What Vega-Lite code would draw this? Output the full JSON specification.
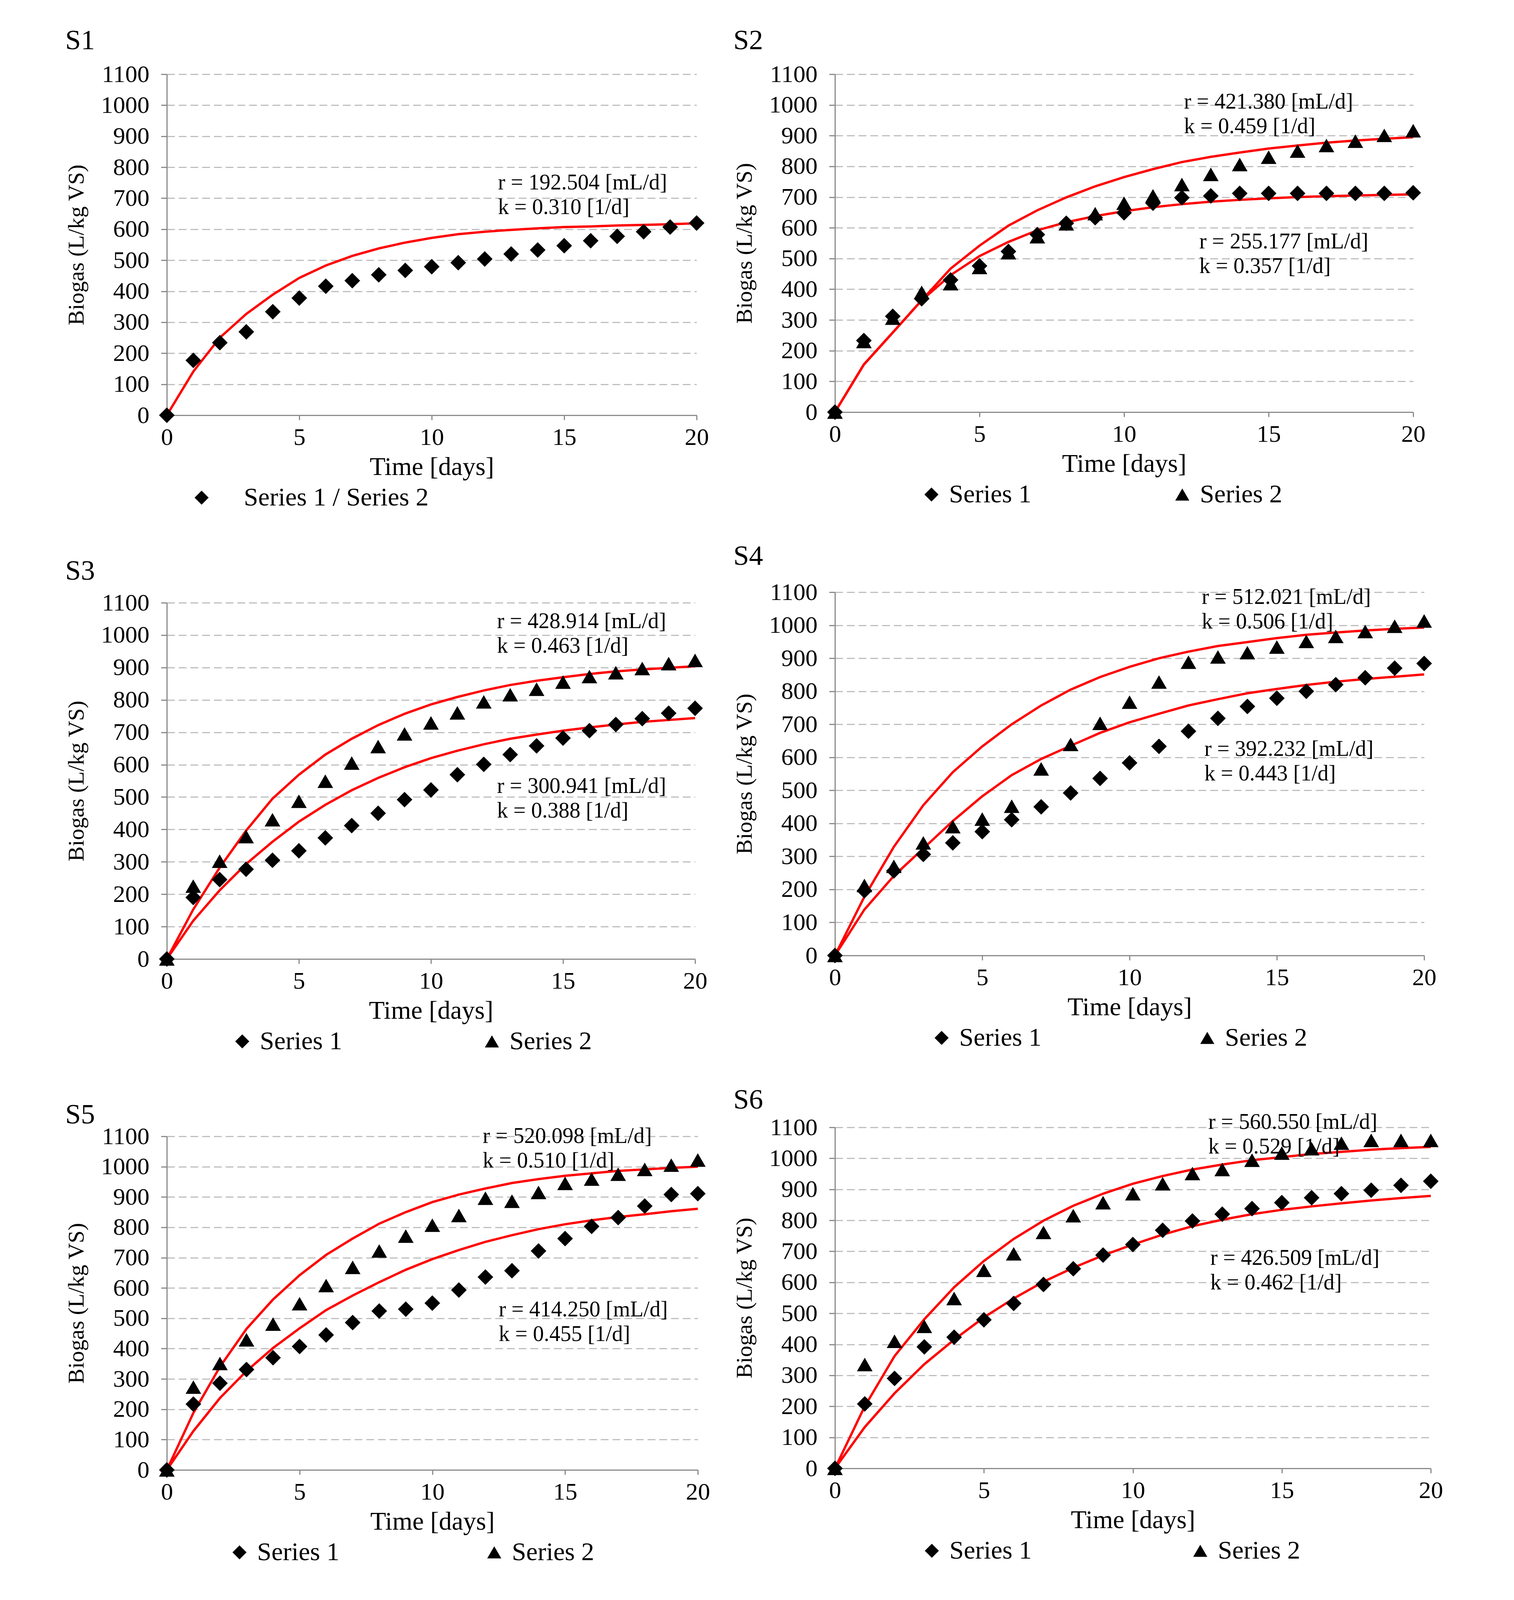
{
"$schema":"https://vega.github.io/schema/vega-lite/v6.json",
"background":"white",
"padding":{"left":167,"top":68,"right":20,"bottom":20},
"datasets":{
"pts":[
{"panel":"S1","series":"Series 1 / Series 2","day":0,"biogas":0},{"panel":"S1","series":"Series 1 / Series 2","day":1,"biogas":177},{"panel":"S1","series":"Series 1 / Series 2","day":2,"biogas":234},{"panel":"S1","series":"Series 1 / Series 2","day":3,"biogas":269},{"panel":"S1","series":"Series 1 / Series 2","day":4,"biogas":334},{"panel":"S1","series":"Series 1 / Series 2","day":5,"biogas":378},{"panel":"S1","series":"Series 1 / Series 2","day":6,"biogas":416},{"panel":"S1","series":"Series 1 / Series 2","day":7,"biogas":434},{"panel":"S1","series":"Series 1 / Series 2","day":8,"biogas":453},{"panel":"S1","series":"Series 1 / Series 2","day":9,"biogas":467},{"panel":"S1","series":"Series 1 / Series 2","day":10,"biogas":479},{"panel":"S1","series":"Series 1 / Series 2","day":11,"biogas":492},{"panel":"S1","series":"Series 1 / Series 2","day":12,"biogas":504},{"panel":"S1","series":"Series 1 / Series 2","day":13,"biogas":520},{"panel":"S1","series":"Series 1 / Series 2","day":14,"biogas":533},{"panel":"S1","series":"Series 1 / Series 2","day":15,"biogas":547},{"panel":"S1","series":"Series 1 / Series 2","day":16,"biogas":563},{"panel":"S1","series":"Series 1 / Series 2","day":17,"biogas":577},{"panel":"S1","series":"Series 1 / Series 2","day":18,"biogas":592},{"panel":"S1","series":"Series 1 / Series 2","day":19,"biogas":607},{"panel":"S1","series":"Series 1 / Series 2","day":20,"biogas":620},
{"panel":"S2","series":"Series 1","day":0,"biogas":0},{"panel":"S2","series":"Series 1","day":1,"biogas":233},{"panel":"S2","series":"Series 1","day":2,"biogas":312},{"panel":"S2","series":"Series 1","day":3,"biogas":369},{"panel":"S2","series":"Series 1","day":4,"biogas":430},{"panel":"S2","series":"Series 1","day":5,"biogas":476},{"panel":"S2","series":"Series 1","day":6,"biogas":523},{"panel":"S2","series":"Series 1","day":7,"biogas":578},{"panel":"S2","series":"Series 1","day":8,"biogas":615},{"panel":"S2","series":"Series 1","day":9,"biogas":633},{"panel":"S2","series":"Series 1","day":10,"biogas":649},{"panel":"S2","series":"Series 1","day":11,"biogas":680},{"panel":"S2","series":"Series 1","day":12,"biogas":698},{"panel":"S2","series":"Series 1","day":13,"biogas":704},{"panel":"S2","series":"Series 1","day":14,"biogas":712},{"panel":"S2","series":"Series 1","day":15,"biogas":712},{"panel":"S2","series":"Series 1","day":16,"biogas":712},{"panel":"S2","series":"Series 1","day":17,"biogas":712},{"panel":"S2","series":"Series 1","day":18,"biogas":712},{"panel":"S2","series":"Series 1","day":19,"biogas":712},{"panel":"S2","series":"Series 1","day":20,"biogas":714},
{"panel":"S2","series":"Series 2","day":0,"biogas":0},{"panel":"S2","series":"Series 2","day":1,"biogas":230},{"panel":"S2","series":"Series 2","day":2,"biogas":306},{"panel":"S2","series":"Series 2","day":3,"biogas":390},{"panel":"S2","series":"Series 2","day":4,"biogas":418},{"panel":"S2","series":"Series 2","day":5,"biogas":471},{"panel":"S2","series":"Series 2","day":6,"biogas":519},{"panel":"S2","series":"Series 2","day":7,"biogas":571},{"panel":"S2","series":"Series 2","day":8,"biogas":613},{"panel":"S2","series":"Series 2","day":9,"biogas":646},{"panel":"S2","series":"Series 2","day":10,"biogas":680},{"panel":"S2","series":"Series 2","day":11,"biogas":704},{"panel":"S2","series":"Series 2","day":12,"biogas":741},{"panel":"S2","series":"Series 2","day":13,"biogas":774},{"panel":"S2","series":"Series 2","day":14,"biogas":806},{"panel":"S2","series":"Series 2","day":15,"biogas":830},{"panel":"S2","series":"Series 2","day":16,"biogas":850},{"panel":"S2","series":"Series 2","day":17,"biogas":868},{"panel":"S2","series":"Series 2","day":18,"biogas":882},{"panel":"S2","series":"Series 2","day":19,"biogas":901},{"panel":"S2","series":"Series 2","day":20,"biogas":916},
{"panel":"S3","series":"Series 1","day":0,"biogas":0},{"panel":"S3","series":"Series 1","day":1,"biogas":190},{"panel":"S3","series":"Series 1","day":2,"biogas":245},{"panel":"S3","series":"Series 1","day":3,"biogas":277},{"panel":"S3","series":"Series 1","day":4,"biogas":305},{"panel":"S3","series":"Series 1","day":5,"biogas":334},{"panel":"S3","series":"Series 1","day":6,"biogas":374},{"panel":"S3","series":"Series 1","day":7,"biogas":412},{"panel":"S3","series":"Series 1","day":8,"biogas":450},{"panel":"S3","series":"Series 1","day":9,"biogas":492},{"panel":"S3","series":"Series 1","day":10,"biogas":522},{"panel":"S3","series":"Series 1","day":11,"biogas":569},{"panel":"S3","series":"Series 1","day":12,"biogas":601},{"panel":"S3","series":"Series 1","day":13,"biogas":631},{"panel":"S3","series":"Series 1","day":14,"biogas":658},{"panel":"S3","series":"Series 1","day":15,"biogas":682},{"panel":"S3","series":"Series 1","day":16,"biogas":705},{"panel":"S3","series":"Series 1","day":17,"biogas":724},{"panel":"S3","series":"Series 1","day":18,"biogas":742},{"panel":"S3","series":"Series 1","day":19,"biogas":759},{"panel":"S3","series":"Series 1","day":20,"biogas":774},
{"panel":"S3","series":"Series 2","day":0,"biogas":0},{"panel":"S3","series":"Series 2","day":1,"biogas":225},{"panel":"S3","series":"Series 2","day":2,"biogas":302},{"panel":"S3","series":"Series 2","day":3,"biogas":378},{"panel":"S3","series":"Series 2","day":4,"biogas":430},{"panel":"S3","series":"Series 2","day":5,"biogas":487},{"panel":"S3","series":"Series 2","day":6,"biogas":549},{"panel":"S3","series":"Series 2","day":7,"biogas":605},{"panel":"S3","series":"Series 2","day":8,"biogas":656},{"panel":"S3","series":"Series 2","day":9,"biogas":695},{"panel":"S3","series":"Series 2","day":10,"biogas":729},{"panel":"S3","series":"Series 2","day":11,"biogas":760},{"panel":"S3","series":"Series 2","day":12,"biogas":794},{"panel":"S3","series":"Series 2","day":13,"biogas":816},{"panel":"S3","series":"Series 2","day":14,"biogas":833},{"panel":"S3","series":"Series 2","day":15,"biogas":855},{"panel":"S3","series":"Series 2","day":16,"biogas":872},{"panel":"S3","series":"Series 2","day":17,"biogas":884},{"panel":"S3","series":"Series 2","day":18,"biogas":897},{"panel":"S3","series":"Series 2","day":19,"biogas":912},{"panel":"S3","series":"Series 2","day":20,"biogas":922},
{"panel":"S4","series":"Series 1","day":0,"biogas":0},{"panel":"S4","series":"Series 1","day":1,"biogas":196},{"panel":"S4","series":"Series 1","day":2,"biogas":256},{"panel":"S4","series":"Series 1","day":3,"biogas":306},{"panel":"S4","series":"Series 1","day":4,"biogas":341},{"panel":"S4","series":"Series 1","day":5,"biogas":375},{"panel":"S4","series":"Series 1","day":6,"biogas":411},{"panel":"S4","series":"Series 1","day":7,"biogas":450},{"panel":"S4","series":"Series 1","day":8,"biogas":492},{"panel":"S4","series":"Series 1","day":9,"biogas":536},{"panel":"S4","series":"Series 1","day":10,"biogas":583},{"panel":"S4","series":"Series 1","day":11,"biogas":633},{"panel":"S4","series":"Series 1","day":12,"biogas":679},{"panel":"S4","series":"Series 1","day":13,"biogas":718},{"panel":"S4","series":"Series 1","day":14,"biogas":754},{"panel":"S4","series":"Series 1","day":15,"biogas":779},{"panel":"S4","series":"Series 1","day":16,"biogas":800},{"panel":"S4","series":"Series 1","day":17,"biogas":820},{"panel":"S4","series":"Series 1","day":18,"biogas":841},{"panel":"S4","series":"Series 1","day":19,"biogas":870},{"panel":"S4","series":"Series 1","day":20,"biogas":884},
{"panel":"S4","series":"Series 2","day":0,"biogas":0},{"panel":"S4","series":"Series 2","day":1,"biogas":212},{"panel":"S4","series":"Series 2","day":2,"biogas":270},{"panel":"S4","series":"Series 2","day":3,"biogas":341},{"panel":"S4","series":"Series 2","day":4,"biogas":390},{"panel":"S4","series":"Series 2","day":5,"biogas":413},{"panel":"S4","series":"Series 2","day":6,"biogas":452},{"panel":"S4","series":"Series 2","day":7,"biogas":565},{"panel":"S4","series":"Series 2","day":8,"biogas":639},{"panel":"S4","series":"Series 2","day":9,"biogas":703},{"panel":"S4","series":"Series 2","day":10,"biogas":767},{"panel":"S4","series":"Series 2","day":11,"biogas":828},{"panel":"S4","series":"Series 2","day":12,"biogas":888},{"panel":"S4","series":"Series 2","day":13,"biogas":904},{"panel":"S4","series":"Series 2","day":14,"biogas":917},{"panel":"S4","series":"Series 2","day":15,"biogas":934},{"panel":"S4","series":"Series 2","day":16,"biogas":951},{"panel":"S4","series":"Series 2","day":17,"biogas":966},{"panel":"S4","series":"Series 2","day":18,"biogas":981},{"panel":"S4","series":"Series 2","day":19,"biogas":997},{"panel":"S4","series":"Series 2","day":20,"biogas":1013},
{"panel":"S5","series":"Series 1","day":0,"biogas":0},{"panel":"S5","series":"Series 1","day":1,"biogas":217},{"panel":"S5","series":"Series 1","day":2,"biogas":286},{"panel":"S5","series":"Series 1","day":3,"biogas":331},{"panel":"S5","series":"Series 1","day":4,"biogas":370},{"panel":"S5","series":"Series 1","day":5,"biogas":407},{"panel":"S5","series":"Series 1","day":6,"biogas":445},{"panel":"S5","series":"Series 1","day":7,"biogas":486},{"panel":"S5","series":"Series 1","day":8,"biogas":524},{"panel":"S5","series":"Series 1","day":9,"biogas":530},{"panel":"S5","series":"Series 1","day":10,"biogas":550},{"panel":"S5","series":"Series 1","day":11,"biogas":593},{"panel":"S5","series":"Series 1","day":12,"biogas":636},{"panel":"S5","series":"Series 1","day":13,"biogas":657},{"panel":"S5","series":"Series 1","day":14,"biogas":722},{"panel":"S5","series":"Series 1","day":15,"biogas":763},{"panel":"S5","series":"Series 1","day":16,"biogas":803},{"panel":"S5","series":"Series 1","day":17,"biogas":832},{"panel":"S5","series":"Series 1","day":18,"biogas":870},{"panel":"S5","series":"Series 1","day":19,"biogas":908},{"panel":"S5","series":"Series 1","day":20,"biogas":911},
{"panel":"S5","series":"Series 2","day":0,"biogas":0},{"panel":"S5","series":"Series 2","day":1,"biogas":273},{"panel":"S5","series":"Series 2","day":2,"biogas":351},{"panel":"S5","series":"Series 2","day":3,"biogas":429},{"panel":"S5","series":"Series 2","day":4,"biogas":481},{"panel":"S5","series":"Series 2","day":5,"biogas":548},{"panel":"S5","series":"Series 2","day":6,"biogas":608},{"panel":"S5","series":"Series 2","day":7,"biogas":668},{"panel":"S5","series":"Series 2","day":8,"biogas":722},{"panel":"S5","series":"Series 2","day":9,"biogas":771},{"panel":"S5","series":"Series 2","day":10,"biogas":807},{"panel":"S5","series":"Series 2","day":11,"biogas":839},{"panel":"S5","series":"Series 2","day":12,"biogas":896},{"panel":"S5","series":"Series 2","day":13,"biogas":886},{"panel":"S5","series":"Series 2","day":14,"biogas":915},{"panel":"S5","series":"Series 2","day":15,"biogas":945},{"panel":"S5","series":"Series 2","day":16,"biogas":959},{"panel":"S5","series":"Series 2","day":17,"biogas":975},{"panel":"S5","series":"Series 2","day":18,"biogas":991},{"panel":"S5","series":"Series 2","day":19,"biogas":1005},{"panel":"S5","series":"Series 2","day":20,"biogas":1022},
{"panel":"S6","series":"Series 1","day":0,"biogas":0},{"panel":"S6","series":"Series 1","day":1,"biogas":208},{"panel":"S6","series":"Series 1","day":2,"biogas":290},{"panel":"S6","series":"Series 1","day":3,"biogas":392},{"panel":"S6","series":"Series 1","day":4,"biogas":423},{"panel":"S6","series":"Series 1","day":5,"biogas":479},{"panel":"S6","series":"Series 1","day":6,"biogas":532},{"panel":"S6","series":"Series 1","day":7,"biogas":593},{"panel":"S6","series":"Series 1","day":8,"biogas":644},{"panel":"S6","series":"Series 1","day":9,"biogas":688},{"panel":"S6","series":"Series 1","day":10,"biogas":722},{"panel":"S6","series":"Series 1","day":11,"biogas":768},{"panel":"S6","series":"Series 1","day":12,"biogas":798},{"panel":"S6","series":"Series 1","day":13,"biogas":820},{"panel":"S6","series":"Series 1","day":14,"biogas":838},{"panel":"S6","series":"Series 1","day":15,"biogas":857},{"panel":"S6","series":"Series 1","day":16,"biogas":873},{"panel":"S6","series":"Series 1","day":17,"biogas":886},{"panel":"S6","series":"Series 1","day":18,"biogas":897},{"panel":"S6","series":"Series 1","day":19,"biogas":913},{"panel":"S6","series":"Series 1","day":20,"biogas":926},
{"panel":"S6","series":"Series 2","day":0,"biogas":0},{"panel":"S6","series":"Series 2","day":1,"biogas":335},{"panel":"S6","series":"Series 2","day":2,"biogas":410},{"panel":"S6","series":"Series 2","day":3,"biogas":458},{"panel":"S6","series":"Series 2","day":4,"biogas":548},{"panel":"S6","series":"Series 2","day":5,"biogas":639},{"panel":"S6","series":"Series 2","day":6,"biogas":692},{"panel":"S6","series":"Series 2","day":7,"biogas":761},{"panel":"S6","series":"Series 2","day":8,"biogas":815},{"panel":"S6","series":"Series 2","day":9,"biogas":857},{"panel":"S6","series":"Series 2","day":10,"biogas":886},{"panel":"S6","series":"Series 2","day":11,"biogas":918},{"panel":"S6","series":"Series 2","day":12,"biogas":951},{"panel":"S6","series":"Series 2","day":13,"biogas":964},{"panel":"S6","series":"Series 2","day":14,"biogas":994},{"panel":"S6","series":"Series 2","day":15,"biogas":1017},{"panel":"S6","series":"Series 2","day":16,"biogas":1031},{"panel":"S6","series":"Series 2","day":17,"biogas":1049},{"panel":"S6","series":"Series 2","day":18,"biogas":1058},{"panel":"S6","series":"Series 2","day":19,"biogas":1058},{"panel":"S6","series":"Series 2","day":20,"biogas":1058}
],
"fit":[
{"panel":"S1","curve":"Series 1","day":0,"biogas":0},{"panel":"S1","curve":"Series 1","day":1,"biogas":141},{"panel":"S1","curve":"Series 1","day":2,"biogas":250},{"panel":"S1","curve":"Series 1","day":3,"biogas":327},{"panel":"S1","curve":"Series 1","day":4,"biogas":389},{"panel":"S1","curve":"Series 1","day":5,"biogas":443},{"panel":"S1","curve":"Series 1","day":6,"biogas":483},{"panel":"S1","curve":"Series 1","day":7,"biogas":514},{"panel":"S1","curve":"Series 1","day":8,"biogas":538},{"panel":"S1","curve":"Series 1","day":9,"biogas":557},{"panel":"S1","curve":"Series 1","day":10,"biogas":572},{"panel":"S1","curve":"Series 1","day":11,"biogas":584},{"panel":"S1","curve":"Series 1","day":12,"biogas":592},{"panel":"S1","curve":"Series 1","day":13,"biogas":598},{"panel":"S1","curve":"Series 1","day":14,"biogas":603},{"panel":"S1","curve":"Series 1","day":15,"biogas":607},{"panel":"S1","curve":"Series 1","day":16,"biogas":609},{"panel":"S1","curve":"Series 1","day":17,"biogas":612},{"panel":"S1","curve":"Series 1","day":18,"biogas":614},{"panel":"S1","curve":"Series 1","day":19,"biogas":616},{"panel":"S1","curve":"Series 1","day":20,"biogas":619},
{"panel":"S2","curve":"Series 1","day":0,"biogas":0},{"panel":"S2","curve":"Series 1","day":1,"biogas":155},{"panel":"S2","curve":"Series 1","day":2,"biogas":259},{"panel":"S2","curve":"Series 1","day":3,"biogas":364},{"panel":"S2","curve":"Series 1","day":4,"biogas":446},{"panel":"S2","curve":"Series 1","day":5,"biogas":508},{"panel":"S2","curve":"Series 1","day":6,"biogas":554},{"panel":"S2","curve":"Series 1","day":7,"biogas":592},{"panel":"S2","curve":"Series 1","day":8,"biogas":618},{"panel":"S2","curve":"Series 1","day":9,"biogas":638},{"panel":"S2","curve":"Series 1","day":10,"biogas":654},{"panel":"S2","curve":"Series 1","day":11,"biogas":667},{"panel":"S2","curve":"Series 1","day":12,"biogas":677},{"panel":"S2","curve":"Series 1","day":13,"biogas":685},{"panel":"S2","curve":"Series 1","day":14,"biogas":691},{"panel":"S2","curve":"Series 1","day":15,"biogas":696},{"panel":"S2","curve":"Series 1","day":16,"biogas":700},{"panel":"S2","curve":"Series 1","day":17,"biogas":703},{"panel":"S2","curve":"Series 1","day":18,"biogas":705},{"panel":"S2","curve":"Series 1","day":19,"biogas":707},{"panel":"S2","curve":"Series 1","day":20,"biogas":709},
{"panel":"S2","curve":"Series 2","day":0,"biogas":0},{"panel":"S2","curve":"Series 2","day":1,"biogas":155},{"panel":"S2","curve":"Series 2","day":2,"biogas":259},{"panel":"S2","curve":"Series 2","day":3,"biogas":364},{"panel":"S2","curve":"Series 2","day":4,"biogas":467},{"panel":"S2","curve":"Series 2","day":5,"biogas":542},{"panel":"S2","curve":"Series 2","day":6,"biogas":607},{"panel":"S2","curve":"Series 2","day":7,"biogas":657},{"panel":"S2","curve":"Series 2","day":8,"biogas":699},{"panel":"S2","curve":"Series 2","day":9,"biogas":735},{"panel":"S2","curve":"Series 2","day":10,"biogas":765},{"panel":"S2","curve":"Series 2","day":11,"biogas":791},{"panel":"S2","curve":"Series 2","day":12,"biogas":814},{"panel":"S2","curve":"Series 2","day":13,"biogas":831},{"panel":"S2","curve":"Series 2","day":14,"biogas":845},{"panel":"S2","curve":"Series 2","day":15,"biogas":858},{"panel":"S2","curve":"Series 2","day":16,"biogas":868},{"panel":"S2","curve":"Series 2","day":17,"biogas":877},{"panel":"S2","curve":"Series 2","day":18,"biogas":884},{"panel":"S2","curve":"Series 2","day":19,"biogas":890},{"panel":"S2","curve":"Series 2","day":20,"biogas":895},
{"panel":"S3","curve":"Series 1","day":0,"biogas":0},{"panel":"S3","curve":"Series 1","day":1,"biogas":118},{"panel":"S3","curve":"Series 1","day":2,"biogas":212},{"panel":"S3","curve":"Series 1","day":3,"biogas":293},{"panel":"S3","curve":"Series 1","day":4,"biogas":362},{"panel":"S3","curve":"Series 1","day":5,"biogas":424},{"panel":"S3","curve":"Series 1","day":6,"biogas":476},{"panel":"S3","curve":"Series 1","day":7,"biogas":521},{"panel":"S3","curve":"Series 1","day":8,"biogas":559},{"panel":"S3","curve":"Series 1","day":9,"biogas":592},{"panel":"S3","curve":"Series 1","day":10,"biogas":620},{"panel":"S3","curve":"Series 1","day":11,"biogas":643},{"panel":"S3","curve":"Series 1","day":12,"biogas":663},{"panel":"S3","curve":"Series 1","day":13,"biogas":680},{"panel":"S3","curve":"Series 1","day":14,"biogas":693},{"panel":"S3","curve":"Series 1","day":15,"biogas":705},{"panel":"S3","curve":"Series 1","day":16,"biogas":715},{"panel":"S3","curve":"Series 1","day":17,"biogas":724},{"panel":"S3","curve":"Series 1","day":18,"biogas":732},{"panel":"S3","curve":"Series 1","day":19,"biogas":738},{"panel":"S3","curve":"Series 1","day":20,"biogas":744},
{"panel":"S3","curve":"Series 2","day":0,"biogas":0},{"panel":"S3","curve":"Series 2","day":1,"biogas":153},{"panel":"S3","curve":"Series 2","day":2,"biogas":282},{"panel":"S3","curve":"Series 2","day":3,"biogas":396},{"panel":"S3","curve":"Series 2","day":4,"biogas":495},{"panel":"S3","curve":"Series 2","day":5,"biogas":569},{"panel":"S3","curve":"Series 2","day":6,"biogas":631},{"panel":"S3","curve":"Series 2","day":7,"biogas":680},{"panel":"S3","curve":"Series 2","day":8,"biogas":722},{"panel":"S3","curve":"Series 2","day":9,"biogas":757},{"panel":"S3","curve":"Series 2","day":10,"biogas":786},{"panel":"S3","curve":"Series 2","day":11,"biogas":809},{"panel":"S3","curve":"Series 2","day":12,"biogas":829},{"panel":"S3","curve":"Series 2","day":13,"biogas":846},{"panel":"S3","curve":"Series 2","day":14,"biogas":859},{"panel":"S3","curve":"Series 2","day":15,"biogas":870},{"panel":"S3","curve":"Series 2","day":16,"biogas":880},{"panel":"S3","curve":"Series 2","day":17,"biogas":888},{"panel":"S3","curve":"Series 2","day":18,"biogas":894},{"panel":"S3","curve":"Series 2","day":19,"biogas":899},{"panel":"S3","curve":"Series 2","day":20,"biogas":904},
{"panel":"S4","curve":"Series 1","day":0,"biogas":0},{"panel":"S4","curve":"Series 1","day":1,"biogas":139},{"panel":"S4","curve":"Series 1","day":2,"biogas":241},{"panel":"S4","curve":"Series 1","day":3,"biogas":324},{"panel":"S4","curve":"Series 1","day":4,"biogas":407},{"panel":"S4","curve":"Series 1","day":5,"biogas":482},{"panel":"S4","curve":"Series 1","day":6,"biogas":546},{"panel":"S4","curve":"Series 1","day":7,"biogas":595},{"panel":"S4","curve":"Series 1","day":8,"biogas":635},{"panel":"S4","curve":"Series 1","day":9,"biogas":674},{"panel":"S4","curve":"Series 1","day":10,"biogas":706},{"panel":"S4","curve":"Series 1","day":11,"biogas":732},{"panel":"S4","curve":"Series 1","day":12,"biogas":757},{"panel":"S4","curve":"Series 1","day":13,"biogas":776},{"panel":"S4","curve":"Series 1","day":14,"biogas":794},{"panel":"S4","curve":"Series 1","day":15,"biogas":807},{"panel":"S4","curve":"Series 1","day":16,"biogas":819},{"panel":"S4","curve":"Series 1","day":17,"biogas":829},{"panel":"S4","curve":"Series 1","day":18,"biogas":837},{"panel":"S4","curve":"Series 1","day":19,"biogas":844},{"panel":"S4","curve":"Series 1","day":20,"biogas":851},
{"panel":"S4","curve":"Series 2","day":0,"biogas":0},{"panel":"S4","curve":"Series 2","day":1,"biogas":178},{"panel":"S4","curve":"Series 2","day":2,"biogas":329},{"panel":"S4","curve":"Series 2","day":3,"biogas":455},{"panel":"S4","curve":"Series 2","day":4,"biogas":555},{"panel":"S4","curve":"Series 2","day":5,"biogas":633},{"panel":"S4","curve":"Series 2","day":6,"biogas":700},{"panel":"S4","curve":"Series 2","day":7,"biogas":757},{"panel":"S4","curve":"Series 2","day":8,"biogas":805},{"panel":"S4","curve":"Series 2","day":9,"biogas":843},{"panel":"S4","curve":"Series 2","day":10,"biogas":874},{"panel":"S4","curve":"Series 2","day":11,"biogas":900},{"panel":"S4","curve":"Series 2","day":12,"biogas":920},{"panel":"S4","curve":"Series 2","day":13,"biogas":937},{"panel":"S4","curve":"Series 2","day":14,"biogas":949},{"panel":"S4","curve":"Series 2","day":15,"biogas":961},{"panel":"S4","curve":"Series 2","day":16,"biogas":971},{"panel":"S4","curve":"Series 2","day":17,"biogas":978},{"panel":"S4","curve":"Series 2","day":18,"biogas":984},{"panel":"S4","curve":"Series 2","day":19,"biogas":989},{"panel":"S4","curve":"Series 2","day":20,"biogas":993},
{"panel":"S5","curve":"Series 1","day":0,"biogas":0},{"panel":"S5","curve":"Series 1","day":1,"biogas":128},{"panel":"S5","curve":"Series 1","day":2,"biogas":237},{"panel":"S5","curve":"Series 1","day":3,"biogas":326},{"panel":"S5","curve":"Series 1","day":4,"biogas":402},{"panel":"S5","curve":"Series 1","day":5,"biogas":467},{"panel":"S5","curve":"Series 1","day":6,"biogas":527},{"panel":"S5","curve":"Series 1","day":7,"biogas":575},{"panel":"S5","curve":"Series 1","day":8,"biogas":619},{"panel":"S5","curve":"Series 1","day":9,"biogas":660},{"panel":"S5","curve":"Series 1","day":10,"biogas":695},{"panel":"S5","curve":"Series 1","day":11,"biogas":725},{"panel":"S5","curve":"Series 1","day":12,"biogas":752},{"panel":"S5","curve":"Series 1","day":13,"biogas":774},{"panel":"S5","curve":"Series 1","day":14,"biogas":794},{"panel":"S5","curve":"Series 1","day":15,"biogas":810},{"panel":"S5","curve":"Series 1","day":16,"biogas":823},{"panel":"S5","curve":"Series 1","day":17,"biogas":834},{"panel":"S5","curve":"Series 1","day":18,"biogas":843},{"panel":"S5","curve":"Series 1","day":19,"biogas":853},{"panel":"S5","curve":"Series 1","day":20,"biogas":861},
{"panel":"S5","curve":"Series 2","day":0,"biogas":0},{"panel":"S5","curve":"Series 2","day":1,"biogas":188},{"panel":"S5","curve":"Series 2","day":2,"biogas":340},{"panel":"S5","curve":"Series 2","day":3,"biogas":465},{"panel":"S5","curve":"Series 2","day":4,"biogas":562},{"panel":"S5","curve":"Series 2","day":5,"biogas":642},{"panel":"S5","curve":"Series 2","day":6,"biogas":709},{"panel":"S5","curve":"Series 2","day":7,"biogas":763},{"panel":"S5","curve":"Series 2","day":8,"biogas":812},{"panel":"S5","curve":"Series 2","day":9,"biogas":850},{"panel":"S5","curve":"Series 2","day":10,"biogas":883},{"panel":"S5","curve":"Series 2","day":11,"biogas":908},{"panel":"S5","curve":"Series 2","day":12,"biogas":928},{"panel":"S5","curve":"Series 2","day":13,"biogas":946},{"panel":"S5","curve":"Series 2","day":14,"biogas":959},{"panel":"S5","curve":"Series 2","day":15,"biogas":970},{"panel":"S5","curve":"Series 2","day":16,"biogas":978},{"panel":"S5","curve":"Series 2","day":17,"biogas":986},{"panel":"S5","curve":"Series 2","day":18,"biogas":991},{"panel":"S5","curve":"Series 2","day":19,"biogas":996},{"panel":"S5","curve":"Series 2","day":20,"biogas":1000},
{"panel":"S6","curve":"Series 1","day":0,"biogas":0},{"panel":"S6","curve":"Series 1","day":1,"biogas":133},{"panel":"S6","curve":"Series 1","day":2,"biogas":242},{"panel":"S6","curve":"Series 1","day":3,"biogas":336},{"panel":"S6","curve":"Series 1","day":4,"biogas":415},{"panel":"S6","curve":"Series 1","day":5,"biogas":487},{"panel":"S6","curve":"Series 1","day":6,"biogas":548},{"panel":"S6","curve":"Series 1","day":7,"biogas":602},{"panel":"S6","curve":"Series 1","day":8,"biogas":647},{"panel":"S6","curve":"Series 1","day":9,"biogas":687},{"panel":"S6","curve":"Series 1","day":10,"biogas":722},{"panel":"S6","curve":"Series 1","day":11,"biogas":754},{"panel":"S6","curve":"Series 1","day":12,"biogas":781},{"panel":"S6","curve":"Series 1","day":13,"biogas":802},{"panel":"S6","curve":"Series 1","day":14,"biogas":820},{"panel":"S6","curve":"Series 1","day":15,"biogas":834},{"panel":"S6","curve":"Series 1","day":16,"biogas":845},{"panel":"S6","curve":"Series 1","day":17,"biogas":855},{"panel":"S6","curve":"Series 1","day":18,"biogas":864},{"panel":"S6","curve":"Series 1","day":19,"biogas":872},{"panel":"S6","curve":"Series 1","day":20,"biogas":879},
{"panel":"S6","curve":"Series 2","day":0,"biogas":0},{"panel":"S6","curve":"Series 2","day":1,"biogas":200},{"panel":"S6","curve":"Series 2","day":2,"biogas":362},{"panel":"S6","curve":"Series 2","day":3,"biogas":481},{"panel":"S6","curve":"Series 2","day":4,"biogas":584},{"panel":"S6","curve":"Series 2","day":5,"biogas":669},{"panel":"S6","curve":"Series 2","day":6,"biogas":740},{"panel":"S6","curve":"Series 2","day":7,"biogas":799},{"panel":"S6","curve":"Series 2","day":8,"biogas":847},{"panel":"S6","curve":"Series 2","day":9,"biogas":886},{"panel":"S6","curve":"Series 2","day":10,"biogas":918},{"panel":"S6","curve":"Series 2","day":11,"biogas":943},{"panel":"S6","curve":"Series 2","day":12,"biogas":964},{"panel":"S6","curve":"Series 2","day":13,"biogas":980},{"panel":"S6","curve":"Series 2","day":14,"biogas":994},{"panel":"S6","curve":"Series 2","day":15,"biogas":1004},{"panel":"S6","curve":"Series 2","day":16,"biogas":1014},{"panel":"S6","curve":"Series 2","day":17,"biogas":1021},{"panel":"S6","curve":"Series 2","day":18,"biogas":1028},{"panel":"S6","curve":"Series 2","day":19,"biogas":1033},{"panel":"S6","curve":"Series 2","day":20,"biogas":1037}
]
},
"hconcat":[
{"spacing":119,"resolve":{"scale":{"shape":"independent"},"legend":{"shape":"independent"}},"vconcat":[
{"width":1356,"height":873,"title":{"text":"S1","offset":18},
 "layer":[
  {"data":{"name":"fit"},"transform":[{"filter":"datum.panel === 'S1'"}],"mark":{"type":"line","color":"#ff0000","strokeWidth":6},
   "encoding":{"x":{"field":"day","type":"quantitative","scale":{"domain":[0,20],"nice":false},"axis":{"values":[0,5,10,15,20],"format":"d","title":"Time [days]"}},
    "y":{"field":"biogas","type":"quantitative","scale":{"domain":[0,1100],"nice":false},"axis":{"values":[0,100,200,300,400,500,600,700,800,900,1000,1100],"format":"d","title":"Biogas (L/kg VS)"}},
    "detail":{"field":"curve"}}},
  {"data":{"name":"pts"},"transform":[{"filter":"datum.panel === 'S1'"}],"mark":{"type":"point","filled":true,"color":"black","opacity":1,"size":1600},
   "encoding":{"x":{"field":"day","type":"quantitative"},"y":{"field":"biogas","type":"quantitative"},
    "shape":{"field":"series","type":"nominal","scale":{"domain":["Series 1 / Series 2"],"range":["diamond"]},"legend":{"title":null,"orient":"none","legendX":56,"legendY":1051,"labelOffset":75}}}},
  {"data":{"values":[{}]},"mark":{"type":"text","align":"left","baseline":"middle","fontSize":56,"lineHeight":63,"font":"Liberation Serif","color":"black"},
   "encoding":{"x":{"datum":12.5,"type":"quantitative"},"y":{"datum":750,"type":"quantitative"},"text":{"value":["r = 192.504 [mL/d]","k = 0.310 [1/d]"]}}}
 ]},
{"width":1352,"height":912,"title":{"text":"S3","offset":13},
 "layer":[
  {"data":{"name":"fit"},"transform":[{"filter":"datum.panel === 'S3'"}],"mark":{"type":"line","color":"#ff0000","strokeWidth":6},
   "encoding":{"x":{"field":"day","type":"quantitative","scale":{"domain":[0,20],"nice":false},"axis":{"values":[0,5,10,15,20],"format":"d","title":"Time [days]"}},
    "y":{"field":"biogas","type":"quantitative","scale":{"domain":[0,1100],"nice":false},"axis":{"values":[0,100,200,300,400,500,600,700,800,900,1000,1100],"format":"d","title":"Biogas (L/kg VS)"}},
    "detail":{"field":"curve"}}},
  {"data":{"name":"pts"},"transform":[{"filter":"datum.panel === 'S3'"}],"mark":{"type":"point","filled":true,"color":"black","opacity":1,"size":1600},
   "encoding":{"x":{"field":"day","type":"quantitative"},"y":{"field":"biogas","type":"quantitative"},
    "shape":{"field":"series","type":"nominal","scale":{"domain":["Series 1","Series 2"],"range":["diamond","triangle-up"]},"legend":{"title":null,"orient":"none","legendX":160,"legendY":1090,"columnPadding":350}}}},
  {"data":{"values":[{}]},"mark":{"type":"text","align":"left","baseline":"middle","fontSize":56,"lineHeight":63,"font":"Liberation Serif","color":"black"},
   "encoding":{"x":{"datum":12.5,"type":"quantitative"},"y":{"datum":1042,"type":"quantitative"},"text":{"value":["r = 428.914 [mL/d]","k = 0.463 [1/d]"]}}},
  {"data":{"values":[{}]},"mark":{"type":"text","align":"left","baseline":"middle","fontSize":56,"lineHeight":63,"font":"Liberation Serif","color":"black"},
   "encoding":{"x":{"datum":12.5,"type":"quantitative"},"y":{"datum":533,"type":"quantitative"},"text":{"value":["r = 300.941 [mL/d]","k = 0.388 [1/d]"]}}}
 ]},
{"width":1359,"height":854,"title":{"text":"S5","offset":-13},
 "layer":[
  {"data":{"name":"fit"},"transform":[{"filter":"datum.panel === 'S5'"}],"mark":{"type":"line","color":"#ff0000","strokeWidth":6},
   "encoding":{"x":{"field":"day","type":"quantitative","scale":{"domain":[0,20],"nice":false},"axis":{"values":[0,5,10,15,20],"format":"d","title":"Time [days]"}},
    "y":{"field":"biogas","type":"quantitative","scale":{"domain":[0,1100],"nice":false},"axis":{"values":[0,100,200,300,400,500,600,700,800,900,1000,1100],"format":"d","title":"Biogas (L/kg VS)"}},
    "detail":{"field":"curve"}}},
  {"data":{"name":"pts"},"transform":[{"filter":"datum.panel === 'S5'"}],"mark":{"type":"point","filled":true,"color":"black","opacity":1,"size":1600},
   "encoding":{"x":{"field":"day","type":"quantitative"},"y":{"field":"biogas","type":"quantitative"},
    "shape":{"field":"series","type":"nominal","scale":{"domain":["Series 1","Series 2"],"range":["diamond","triangle-up"]},"legend":{"title":null,"orient":"none","legendX":153,"legendY":1032,"columnPadding":363}}}},
  {"data":{"values":[{}]},"mark":{"type":"text","align":"left","baseline":"middle","fontSize":56,"lineHeight":63,"font":"Liberation Serif","color":"black"},
   "encoding":{"x":{"datum":11.9,"type":"quantitative"},"y":{"datum":1100,"type":"quantitative"},"text":{"value":["r = 520.098 [mL/d]","k = 0.510 [1/d]"]}}},
  {"data":{"values":[{}]},"mark":{"type":"text","align":"left","baseline":"middle","fontSize":56,"lineHeight":63,"font":"Liberation Serif","color":"black"},
   "encoding":{"x":{"datum":12.5,"type":"quantitative"},"y":{"datum":528,"type":"quantitative"},"text":{"value":["r = 414.250 [mL/d]","k = 0.455 [1/d]"]}}}
 ]}
]},
{"spacing":89,"resolve":{"scale":{"shape":"independent"},"legend":{"shape":"independent"}},"vconcat":[
{"width":1480,"height":865,"title":{"text":"S2","offset":18},
 "layer":[
  {"data":{"name":"fit"},"transform":[{"filter":"datum.panel === 'S2'"}],"mark":{"type":"line","color":"#ff0000","strokeWidth":6},
   "encoding":{"x":{"field":"day","type":"quantitative","scale":{"domain":[0,20],"nice":false},"axis":{"values":[0,5,10,15,20],"format":"d","title":"Time [days]"}},
    "y":{"field":"biogas","type":"quantitative","scale":{"domain":[0,1100],"nice":false},"axis":{"values":[0,100,200,300,400,500,600,700,800,900,1000,1100],"format":"d","title":"Biogas (L/kg VS)"}},
    "detail":{"field":"curve"}}},
  {"data":{"name":"pts"},"transform":[{"filter":"datum.panel === 'S2'"}],"mark":{"type":"point","filled":true,"color":"black","opacity":1,"size":1600},
   "encoding":{"x":{"field":"day","type":"quantitative"},"y":{"field":"biogas","type":"quantitative"},
    "shape":{"field":"series","type":"nominal","scale":{"domain":["Series 1","Series 2"],"range":["diamond","triangle-up"]},"legend":{"title":null,"orient":"none","legendX":214,"legendY":1043,"columnPadding":353}}}},
  {"data":{"values":[{}]},"mark":{"type":"text","align":"left","baseline":"middle","fontSize":56,"lineHeight":63,"font":"Liberation Serif","color":"black"},
   "encoding":{"x":{"datum":12.07,"type":"quantitative"},"y":{"datum":1010,"type":"quantitative"},"text":{"value":["r = 421.380 [mL/d]","k = 0.459 [1/d]"]}}},
  {"data":{"values":[{}]},"mark":{"type":"text","align":"left","baseline":"middle","fontSize":56,"lineHeight":63,"font":"Liberation Serif","color":"black"},
   "encoding":{"x":{"datum":12.6,"type":"quantitative"},"y":{"datum":555,"type":"quantitative"},"text":{"value":["r = 255.177 [mL/d]","k = 0.357 [1/d]"]}}}
 ]},
{"width":1508,"height":930,"title":{"text":"S4","offset":24},
 "layer":[
  {"data":{"name":"fit"},"transform":[{"filter":"datum.panel === 'S4'"}],"mark":{"type":"line","color":"#ff0000","strokeWidth":6},
   "encoding":{"x":{"field":"day","type":"quantitative","scale":{"domain":[0,20],"nice":false},"axis":{"values":[0,5,10,15,20],"format":"d","title":"Time [days]"}},
    "y":{"field":"biogas","type":"quantitative","scale":{"domain":[0,1100],"nice":false},"axis":{"values":[0,100,200,300,400,500,600,700,800,900,1000,1100],"format":"d","title":"Biogas (L/kg VS)"}},
    "detail":{"field":"curve"}}},
  {"data":{"name":"pts"},"transform":[{"filter":"datum.panel === 'S4'"}],"mark":{"type":"point","filled":true,"color":"black","opacity":1,"size":1600},
   "encoding":{"x":{"field":"day","type":"quantitative"},"y":{"field":"biogas","type":"quantitative"},
    "shape":{"field":"series","type":"nominal","scale":{"domain":["Series 1","Series 2"],"range":["diamond","triangle-up"]},"legend":{"title":null,"orient":"none","legendX":240,"legendY":1108,"columnPadding":391}}}},
  {"data":{"values":[{}]},"mark":{"type":"text","align":"left","baseline":"middle","fontSize":56,"lineHeight":63,"font":"Liberation Serif","color":"black"},
   "encoding":{"x":{"datum":12.45,"type":"quantitative"},"y":{"datum":1085,"type":"quantitative"},"text":{"value":["r = 512.021 [mL/d]","k = 0.506 [1/d]"]}}},
  {"data":{"values":[{}]},"mark":{"type":"text","align":"left","baseline":"middle","fontSize":56,"lineHeight":63,"font":"Liberation Serif","color":"black"},
   "encoding":{"x":{"datum":12.54,"type":"quantitative"},"y":{"datum":624,"type":"quantitative"},"text":{"value":["r = 392.232 [mL/d]","k = 0.443 [1/d]"]}}}
 ]},
{"width":1525,"height":873,"title":{"text":"S6","offset":-8},
 "layer":[
  {"data":{"name":"fit"},"transform":[{"filter":"datum.panel === 'S6'"}],"mark":{"type":"line","color":"#ff0000","strokeWidth":6},
   "encoding":{"x":{"field":"day","type":"quantitative","scale":{"domain":[0,20],"nice":false},"axis":{"values":[0,5,10,15,20],"format":"d","title":"Time [days]"}},
    "y":{"field":"biogas","type":"quantitative","scale":{"domain":[0,1100],"nice":false},"axis":{"values":[0,100,200,300,400,500,600,700,800,900,1000,1100],"format":"d","title":"Biogas (L/kg VS)"}},
    "detail":{"field":"curve"}}},
  {"data":{"name":"pts"},"transform":[{"filter":"datum.panel === 'S6'"}],"mark":{"type":"point","filled":true,"color":"black","opacity":1,"size":1600},
   "encoding":{"x":{"field":"day","type":"quantitative"},"y":{"field":"biogas","type":"quantitative"},
    "shape":{"field":"series","type":"nominal","scale":{"domain":["Series 1","Series 2"],"range":["diamond","triangle-up"]},"legend":{"title":null,"orient":"none","legendX":215,"legendY":1051,"columnPadding":398}}}},
  {"data":{"values":[{}]},"mark":{"type":"text","align":"left","baseline":"middle","fontSize":56,"lineHeight":63,"font":"Liberation Serif","color":"black"},
   "encoding":{"x":{"datum":12.53,"type":"quantitative"},"y":{"datum":1117,"type":"quantitative"},"text":{"value":["r = 560.550 [mL/d]","k = 0.529 [1/d]"]}}},
  {"data":{"values":[{}]},"mark":{"type":"text","align":"left","baseline":"middle","fontSize":56,"lineHeight":63,"font":"Liberation Serif","color":"black"},
   "encoding":{"x":{"datum":12.6,"type":"quantitative"},"y":{"datum":678,"type":"quantitative"},"text":{"value":["r = 426.509 [mL/d]","k = 0.462 [1/d]"]}}}
 ]}
]}
],
"spacing":60,
"resolve":{"scale":{"shape":"independent"},"legend":{"shape":"independent"}},
"config":{
 "font":"Liberation Serif",
 "view":{"stroke":null},
 "axis":{"labelFont":"Liberation Serif","labelFontSize":62,"labelColor":"black","labelFlush":false,"titleFont":"Liberation Serif","titleFontWeight":"normal","titleColor":"black","domainColor":"#8c8c8c","domainWidth":3,"tickColor":"#8c8c8c","tickWidth":3,"gridColor":"#bfbfbf","gridDash":[20,10],"gridWidth":3},
 "axisX":{"grid":false,"tickSize":12,"labelPadding":14,"titleFontSize":66,"titlePadding":13},
 "axisY":{"tickSize":15,"labelPadding":30,"titleFontSize":58,"titlePadding":33},
 "legend":{"direction":"horizontal","padding":0,"labelFont":"Liberation Serif","labelFontSize":66,"labelColor":"black","labelLimit":2000,"symbolSize":1300,"symbolFillColor":"black","symbolStrokeWidth":0,"columnPadding":370,"labelOffset":12},
 "title":{"font":"Liberation Serif","fontSize":72,"fontWeight":"normal","anchor":"start","frame":"bounds","color":"black"}
}
}
